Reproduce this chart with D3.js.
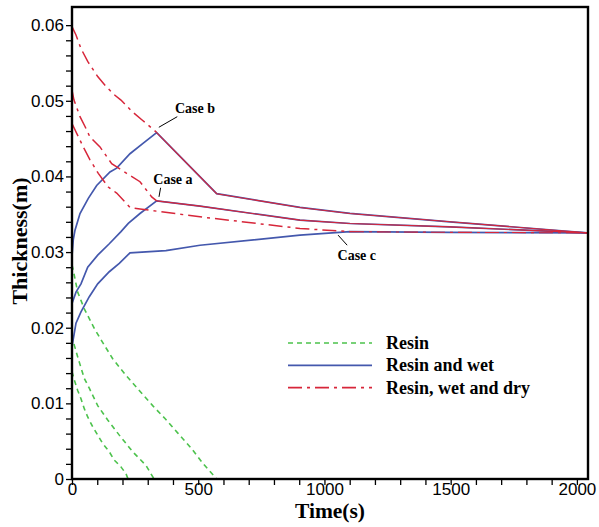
<!DOCTYPE html>
<html>
<head>
<meta charset="utf-8">
<script src="https://cdn.jsdelivr.net/npm/d3@7"></script>
<style>
  body { margin: 0; background: #fff; }
</style>
</head>
<body>
<div id="chart"></div>
<script>
// ---- data (time in s, thickness in m) ----
// Resin only (green dashed)
const resinA = [[0,0.0190],[9,0.0177],[26.5,0.0157],[48.7,0.0133],[68.5,0.0120],[101.8,0.0097],[141.4,0.0078],[187.3,0.0058],[240.4,0.0036],[293,0.0018],[325,0]];
const resinB = [[0,0.0283],[5,0.0276],[22.6,0.0247],[48.7,0.0225],[88.3,0.0199],[127.9,0.0177],[161.2,0.0159],[213.9,0.0137],[266.5,0.0117],[319.6,0.0097],[368.3,0.0080],[421,0.0060],[474,0.0040],[520,0.0020],[573,0]];
const resinC = [[0,0.0142],[9,0.0131],[22.6,0.0117],[35.6,0.0106],[48.7,0.0093],[62.2,0.0082],[82,0.0069],[101.8,0.0058],[121.6,0.0047],[147.7,0.0036],[167.5,0.0025],[194,0.0016],[213.9,0.0007],[222,0]];

// Resin and wet (blue) - rising part
const wetA = [[0,0.0232],[15.8,0.0247],[35.6,0.0258],[62.2,0.0280],[101.8,0.0296],[147.7,0.0311],[194,0.0327],[223,0.0338],[269.3,0.0351]];
const wetB = [[0,0.0295],[5,0.0316],[11.9,0.0329],[31.7,0.0351],[64.6,0.0371],[97.8,0.0388],[150.5,0.0406],[177,0.0411],[229.7,0.0430],[282.4,0.0444]];
const wetC = [[0,0.0175],[15.8,0.0206],[35.6,0.0221],[68.5,0.0241],[101.8,0.0258],[147.7,0.0274],[187.3,0.0285],[229.7,0.0299],[372,0.0302],[507,0.0309],[903,0.03224]];

// Resin, wet and dry (red) - falling part
const dryA = [[0,0.0514],[7.9,0.0501],[31.7,0.0479],[51.5,0.0466],[71.3,0.0452],[110.9,0.0439],[157.2,0.0417],[216.6,0.0404],[269.3,0.0393],[315.6,0.0373]];
const dryB = [[0,0.0598],[15.8,0.0587],[35.6,0.0569],[62.2,0.0552],[101.8,0.0532],[134.7,0.0519],[167.5,0.0508],[194,0.0501],[240.4,0.0485],[280,0.0474],[326,0.0461]];
const dryC = [[0,0.0470],[18.6,0.0457],[44.8,0.0439],[71.3,0.0422],[104.2,0.0404],[143.8,0.0386],[177,0.0378],[229.7,0.0359],[269.3,0.0357],[507,0.03466],[903,0.03312]];

// common tails once both curves meet
const tailA = [[335.4,0.03677],[507,0.03607],[903,0.03422],[1101,0.03378],[1497,0.03333],[2040,0.03254]];
const tailB = [[335.4,0.0458],[573,0.03772],[903,0.0359],[1101,0.03511],[1497,0.0340],[2040,0.03254]];
const tailC = [[1101,0.0327],[1497,0.03261],[2040,0.03254]];

const xTicks = [0, 500, 1000, 1500, 2000];
const yTicks = [0, 0.01, 0.02, 0.03, 0.04, 0.05, 0.06];
const legendLabels = ["Resin", "Resin and wet", "Resin, wet and dry"];

// annotations: label, leader start, leader end, text anchor
const caseLabels = ["Case a", "Case b", "Case c"];
const casePoints = [
  [[344.6,0.0373],[351,0.0385],[322,0.0390]],
  [[344,0.0465],[417,0.0479],[408,0.0484]],
  [[1054,0.03224],[1090,0.03091],[1052,0.02893]]
];

// ---- svg ----
const width = 599, height = 527;
const margin = { top: 7, right: 11, bottom: 48, left: 72 };

const svg = d3.select("#chart").append("svg")
  .attr("width", width)
  .attr("height", height);

const x = d3.scaleLinear().domain([0, 2044]).range([margin.left, width - margin.right]);
const y = d3.scaleLinear().domain([0, 0.0624]).range([height - margin.bottom, margin.top]);

const green = "#4cc24c", blue = "#4458ad", red = "#d7263a";
const dashDot = "14,5,3,5";
const serif = "Liberation Serif, Times New Roman, serif";

const line = d3.line().x(d => x(d[0])).y(d => y(d[1]));

// ---- curves ----
const plot = svg.append("g");

[resinA, resinB, resinC].forEach(s => {
  plot.append("path").attr("d", line(s))
    .attr("fill", "none").attr("stroke", green)
    .attr("stroke-width", 1.6).attr("stroke-dasharray", "5,4");
});

[[wetA, tailA], [wetB, tailB], [wetC, tailC]].forEach(([rise, tail]) => {
  plot.append("path").attr("d", line(rise.concat(tail)))
    .attr("fill", "none").attr("stroke", blue).attr("stroke-width", 1.7);
});

[[dryA, tailA], [dryB, tailB], [dryC, tailC]].forEach(([fall, tail], i) => {
  plot.append("path").attr("d", line(fall.concat([tail[0]])))
    .attr("fill", "none").attr("stroke", red)
    .attr("stroke-width", 1.5).attr("stroke-dasharray", dashDot);
  plot.append("path").attr("d", line(tail))
    .attr("fill", "none").attr("stroke", red)
    .attr("stroke-width", 1.1)
    .attr("stroke-dasharray", i === 2 ? dashDot : null);
});

// ---- annotations ----
caseLabels.forEach((label, i) => {
  const [p0, p1, pt] = casePoints[i];
  svg.append("line")
    .attr("x1", x(p0[0])).attr("y1", y(p0[1]))
    .attr("x2", x(p1[0])).attr("y2", y(p1[1]))
    .attr("stroke", "#000").attr("stroke-width", 1);
  svg.append("text")
    .attr("x", x(pt[0])).attr("y", y(pt[1]))
    .attr("font-family", serif)
    .attr("font-weight", "bold").attr("font-size", 14)
    .text(label);
});

// ---- axes ----
const axisFont = "Liberation Sans, Arial, sans-serif";

const xAxis = svg.append("g")
  .attr("transform", `translate(0,${height - margin.bottom})`)
  .call(d3.axisBottom(x).tickValues(d3.range(0, 2001, 100)).tickSize(6)
    .tickFormat(d => xTicks.includes(d) ? d : ""));

const yAxis = svg.append("g")
  .attr("transform", `translate(${margin.left},0)`)
  .call(d3.axisLeft(y).tickValues(d3.range(0, 0.0601, 0.002)).tickSize(6)
    .tickFormat(d => {
      const m = yTicks.find(t => Math.abs(t - d) < 1e-9);
      return m === undefined ? "" : (m === 0 ? "0" : d3.format(".2f")(m));
    }));

[xAxis, yAxis].forEach(a => {
  a.select(".domain").remove();
  a.selectAll(".tick line").attr("stroke", "#000").attr("stroke-width", 1.3);
  a.selectAll(".tick text").attr("font-family", axisFont).attr("font-size", 17).attr("fill", "#000");
});
xAxis.selectAll(".tick text").attr("dy", 0).attr("y", 16);
yAxis.selectAll(".tick text").attr("x", -8);

// frame
svg.append("rect")
  .attr("x", margin.left).attr("y", margin.top)
  .attr("width", width - margin.left - margin.right)
  .attr("height", height - margin.top - margin.bottom)
  .attr("fill", "none").attr("stroke", "#000").attr("stroke-width", 2.4);

// titles
svg.append("text")
  .attr("x", 330).attr("y", 518)
  .attr("text-anchor", "middle")
  .attr("font-family", serif)
  .attr("font-weight", "bold").attr("font-size", 21.5)
  .text("Time(s)");

svg.append("text")
  .attr("transform", "translate(27,241) rotate(-90)")
  .attr("text-anchor", "middle")
  .attr("font-family", serif)
  .attr("font-weight", "bold").attr("font-size", 22)
  .text("Thickness(m)");

// ---- legend ----
const legendStyles = [
  { color: green, dash: "5,4" },
  { color: blue, dash: null },
  { color: red, dash: dashDot }
];
const legend = svg.append("g").attr("transform", "translate(288,343)");
legendLabels.forEach((label, i) => {
  const row = legend.append("g").attr("transform", `translate(0,${i * 22.3})`);
  row.append("line")
    .attr("x1", 0).attr("x2", 84).attr("y1", 0).attr("y2", 0)
    .attr("stroke", legendStyles[i].color).attr("stroke-width", 1.7)
    .attr("stroke-dasharray", legendStyles[i].dash);
  row.append("text")
    .attr("x", 98).attr("y", 6)
    .attr("font-family", serif)
    .attr("font-weight", "bold").attr("font-size", 18)
    .text(label);
});
</script>
</body>
</html>
